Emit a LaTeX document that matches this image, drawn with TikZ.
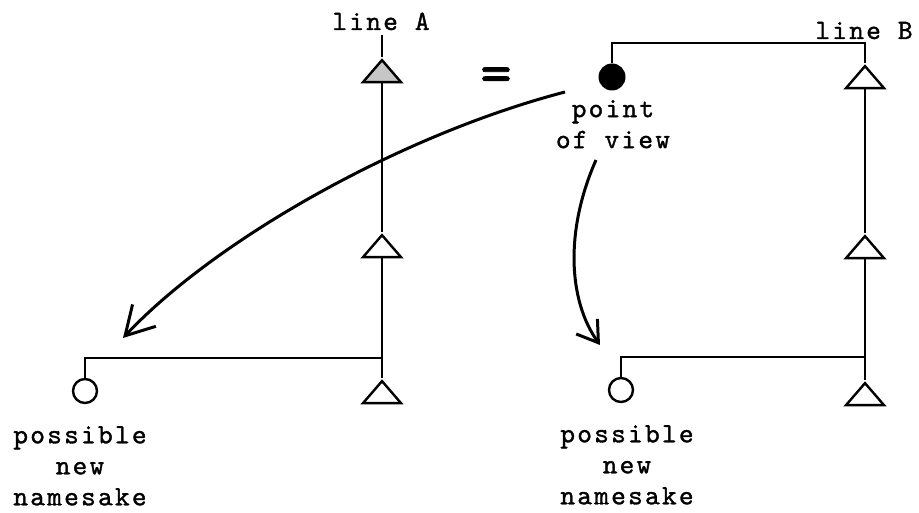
\documentclass[tikz,border=0pt]{standalone}
\usepackage{fontspec}
\newfontfamily\typefont{lmmono10-regular}[Extension=.otf, LetterSpace=8, FakeBold=1.2]
\usetikzlibrary{shapes.geometric,arrows.meta}

\begin{document}
\begin{tikzpicture}[
    x=1pt, y=-1pt,
    wire/.style={line width=2.4pt},
    tri/.style={isosceles triangle, isosceles triangle stretches, shape border rotate=90,
        draw, fill=white, line width=2.4pt, minimum width=38pt, minimum height=22pt,
        inner sep=0pt, anchor=apex},
    holder/.style={circle, draw, line width=2.4pt, minimum size=24pt, inner sep=0pt},
    viewer/.style={circle, fill=black, minimum size=27pt, inner sep=0pt},
    note/.style={font=\typefont\fontsize{28}{31}\selectfont, align=center, inner sep=0pt},
    swing/.style={line width=3pt}
]
\useasboundingbox (0,0) rectangle (919,513);

% line A
\node[tri, fill=gray!45] (a1) at (382,57) {};
\node[tri] (a2) at (382,232) {};
\node[tri] (a3) at (382,378) {};
\coordinate (topA) at (382,35);
\coordinate (joinA) at (382,358);
\node[holder] (ns1) at (85,391) {};
\draw[wire] (topA) -- (a1.apex);
\draw[wire] (a1.lower side) -- (a2.apex);
\draw[wire] (a2.lower side) -- (a3.apex);
\draw[wire] (ns1.north) |- (joinA);

% line B
\node[tri] (b1) at (865,63) {};
\node[tri] (b2) at (865,233) {};
\node[tri] (b3) at (865,380) {};
\coordinate (topB) at (865,43);
\coordinate (joinB) at (865,357);
\node[viewer] (pov) at (612,77) {};
\node[holder] (ns2) at (621,390) {};
\draw[wire] (pov.north) |- (topB) -- (b1.apex);
\draw[wire] (b1.lower side) -- (b2.apex);
\draw[wire] (b2.lower side) -- (b3.apex);
\draw[wire] (ns2.north) |- (joinB);

% texts
\node[note, anchor=base] (nameA) at (381,30) {line A};
\node[note, anchor=base] (nameB) at (864,39) {line B};
\node[font=\typefont\fontsize{60}{60}\selectfont, inner sep=0pt] (eq) at (496,80) {=};
\node[note, anchor=north] (povtext) at (613,100) {point\\of view};
\node[note, anchor=north] (newA) at (80,426) {possible\\new\\namesake};
\node[note, anchor=north] (newB) at (627,425) {possible\\new\\namesake};

% arrows
\coordinate (fromA) at (565,92);
\coordinate (toA) at (123,338);
\coordinate (fromB) at (596,160);
\coordinate (toB) at (600,345);
\draw[swing, -{Straight Barb[length=28pt,width=32pt]}] (fromA) .. controls (400,135) and (215,240) .. (toA);
\draw[swing, -{Straight Barb[length=20pt,width=26pt]}] (fromB) .. controls (565,230) and (568,300) .. (toB);
\end{tikzpicture}
\end{document}
